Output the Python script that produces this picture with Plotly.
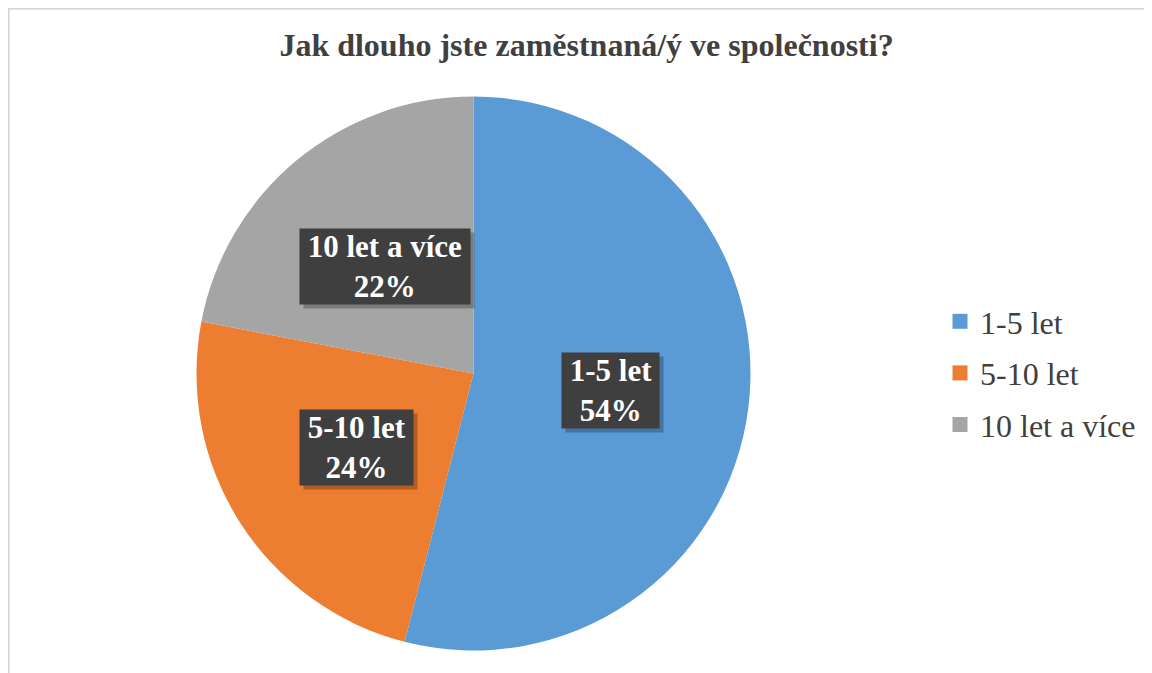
import math

import plotly.graph_objects as go

W, H = 1152, 673
# the html page has an 8px body margin, so the figure sits 8px right/down
OFF = 8

# chart data
categories = ['1-5 let', '5-10 let', '10 let a více']
shares = [54, 24, 22]
colors = ['#5B9BD5', '#ED7D31', '#A5A5A5']
title_text = 'Jak dlouho jste zaměstnaná/ý ve společnosti?'

FONT = 'Liberation Serif, Times New Roman, serif'

# pie placement in figure pixels (center and radius)
cx_px, cy_px, r_px = 473.5 - OFF, 373.5 - OFF, 277
domain_x = [(cx_px - r_px) / W, (cx_px + r_px) / W]
domain_y = [1 - (cy_px + r_px) / H, 1 - (cy_px - r_px) / H]

pie = go.Pie(
    labels=categories,
    values=shares,
    sort=False,
    direction='clockwise',
    rotation=0,
    marker=dict(colors=colors, line=dict(width=0)),
    textinfo='none',
    hoverinfo='label+percent',
    domain=dict(x=domain_x, y=domain_y),
    showlegend=False,
)

fig = go.Figure(data=[pie])

# legend entries (separate groups so the gap between rows can be set)
for name, col in zip(categories, colors):
    fig.add_trace(go.Scatter(
        x=[None], y=[None], mode='markers', name=name, legendgroup=name,
        marker=dict(symbol='square', size=15, color=col),
    ))

# data labels: dark boxes at half radius, on the middle of each slice
total = sum(shares)
annotations = []
cum = 0
for name, val in zip(categories, shares):
    mid = (cum + val / 2) / total * 2 * math.pi
    cum += val
    x = (cx_px + 0.5 * r_px * math.sin(mid)) / W
    y = 1 - (cy_px - 0.5 * r_px * math.cos(mid)) / H
    label = f'<b>&nbsp;{name}&nbsp;<br>{round(val / total * 100)}%</b>'
    common = dict(x=x, y=y, xref='paper', yref='paper', text=label, showarrow=False,
                  xanchor='center', yanchor='middle', borderpad=0)
    # drop shadow
    annotations.append(dict(
        common, xshift=4, yshift=-4,
        font=dict(family=FONT, size=31, color='rgba(0,0,0,0)'),
        bgcolor='rgba(0,0,0,0.25)',
    ))
    annotations.append(dict(
        common,
        font=dict(family=FONT, size=31, color='white'),
        bgcolor='#3F3F3F',
    ))

fig.update_layout(
    width=W, height=H,
    margin=dict(l=0, r=0, t=0, b=0),
    paper_bgcolor='white',
    plot_bgcolor='rgba(0,0,0,0)',
    xaxis=dict(visible=False),
    yaxis=dict(visible=False),
    title=dict(
        text=f'<b>{title_text}</b>',
        x=(586.5 - OFF) / W, xanchor='center', y=1 - (45 - OFF) / H, yanchor='middle',
        font=dict(family=FONT, size=32, color='#404040'),
    ),
    legend=dict(
        x=(940 - OFF) / W, y=1 - (373 - OFF) / H, xanchor='left', yanchor='middle',
        font=dict(family=FONT, size=32, color='#404040'),
        itemwidth=30, tracegroupgap=7,
    ),
    annotations=annotations,
    # chart area border
    shapes=[dict(
        type='rect', xref='paper', yref='paper',
        x0=0, x1=1.02, y0=-0.02, y1=1,
        line=dict(color='#D4D4D4', width=3), layer='below',
    )],
)

fig.write_html('out.html')
